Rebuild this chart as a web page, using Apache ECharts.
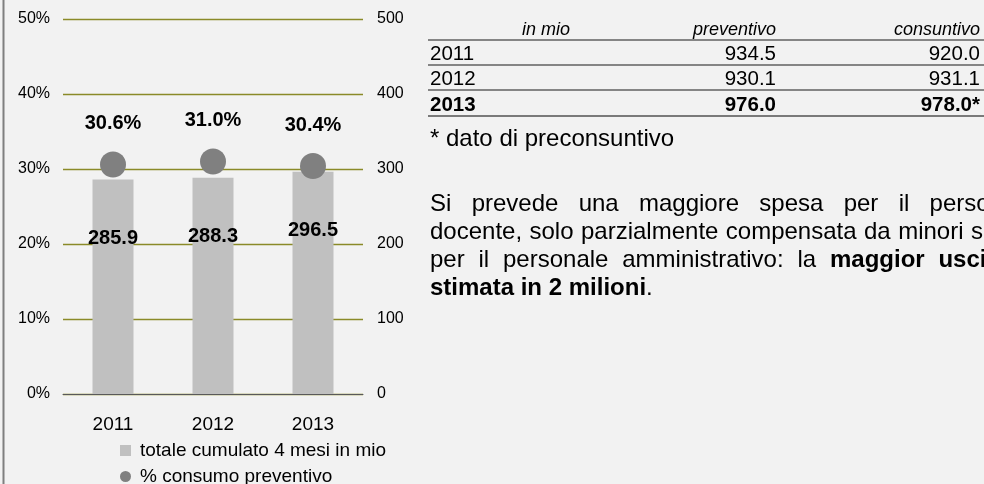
<!DOCTYPE html>
<html>
<head>
<meta charset="utf-8">
<title></title>
<script src="https://cdn.jsdelivr.net/npm/echarts@6/dist/echarts.min.js"></script>
<style>
  body { margin: 0; overflow: hidden; background: #f2f2f2; font-family: "Liberation Sans", Arial, sans-serif; color: #000; }
  #main { position: absolute; left: 0; top: 0; width: 984px; height: 484px; }
  .riga { position: absolute; left: 428px; width: 556px; border-bottom: 2px solid #858585; font-size: 20.5px; }
  .riga span { position: absolute; top: 0; white-space: nowrap; }
  .testa { top: 20px; height: 19px; line-height: 19px; font-size: 18px; font-style: italic; }
  .r0 { top: 41px; height: 23px; line-height: 24px; }
  .r1 { top: 66px; height: 23px; line-height: 24px; }
  .r2 { top: 91px; height: 24px; line-height: 25px; font-weight: bold; border-bottom-color: #7a7a7a; }
  .c1 { left: 2px; }
  .c1h { left: 0; width: 236px; text-align: center; }
  .c2 { right: 208px; text-align: right; }
  .c3 { right: 4px; text-align: right; }
  #nota { position: absolute; left: 430px; top: 124px; font-size: 24px; line-height: 28px; white-space: nowrap; }
  #testo { position: absolute; left: 430px; top: 189px; width: 605px; font-size: 24px; line-height: 28px; text-align: justify; }
</style>
</head>
<body>
<div id="main"></div>
<div id="tabella"></div>
<div id="nota">* dato di preconsuntivo</div>
<div id="testo">Si prevede una maggiore spesa per il personale docente, solo parzialmente compensata da minori spese per il personale amministrativo: la <b>maggior uscita è stimata in 2 milioni</b>.</div>
<script type="text/javascript">
  // dati del grafico
  var anni = ['2011', '2012', '2013'];
  var totale = [285.9, 288.3, 296.5];
  var consumo = [30.6, 31.0, 30.4];
  // dati della tabella
  var intestazione = ['in mio', 'preventivo', 'consuntivo'];
  var preventivo = [934.5, 930.1, 976.0];
  var consuntivo = [920.0, 931.1, 978.0];

  // tabella a destra
  var tab = document.getElementById('tabella');
  var html = '<div class="riga testa"><span class="c1h">' + intestazione[0] + '</span><span class="c2">' +
    intestazione[1] + '</span><span class="c3">' + intestazione[2] + '</span></div>';
  for (var i = 0; i < anni.length; i++) {
    var cons = consuntivo[i].toFixed(1) + (i == anni.length - 1 ? '*' : '');
    html += '<div class="riga r' + i + '"><span class="c1">' + anni[i] + '</span><span class="c2">' +
      preventivo[i].toFixed(1) + '</span><span class="c3">' + cons + '</span></div>';
  }
  tab.innerHTML = html;

  var nomeBar = 'totale cumulato 4 mesi in mio';
  var nomePunti = '% consumo preventivo';

  var myCharts = echarts.init(document.getElementById('main'));
  var legendaBase = {
    left: 115,
    itemWidth: 11,
    itemHeight: 11,
    textStyle: { fontSize: 19, color: '#000', padding: [0, 0, 0, 4] }
  };
  var option = {
    backgroundColor: '#f2f2f2',
    animation: false,
    textStyle: { fontFamily: 'Liberation Sans, Arial, sans-serif' },
    grid: { left: 63, right: 621, top: 19, bottom: 90 },
    legend: [
      Object.assign({}, legendaBase, { top: 436, data: [{ name: nomeBar, icon: 'rect' }] }),
      Object.assign({}, legendaBase, { top: 462, data: [{ name: nomePunti, icon: 'circle' }] })
    ],
    xAxis: {
      type: 'category',
      data: anni,
      axisLine: { lineStyle: { color: '#595959' } },
      axisTick: { length: 6, lineStyle: { color: '#595959' } },
      axisLabel: { fontSize: 19, color: '#000', margin: 21 }
    },
    yAxis: [
      {
        type: 'value', min: 0, max: 50, interval: 10,
        axisLabel: { formatter: '{value}%', fontSize: 16, color: '#000', margin: 13 },
        splitLine: { lineStyle: { color: '#8a8a28', width: 1.4 } },
        axisLine: { show: false },
        axisTick: { show: false }
      },
      {
        type: 'value', min: 0, max: 500, interval: 100, position: 'right',
        axisLabel: { fontSize: 16, color: '#000', margin: 14 },
        splitLine: { show: false },
        axisLine: { show: false },
        axisTick: { show: false }
      }
    ],
    series: [
      {
        name: nomeBar,
        type: 'bar',
        yAxisIndex: 1,
        data: totale,
        barWidth: 41,
        itemStyle: { color: '#c0c0c0' },
        label: {
          show: true, position: ['50%', 59], align: 'center', verticalAlign: 'middle',
          fontSize: 20, fontWeight: 'bold', color: '#000',
          formatter: function (p) { return p.value.toFixed(1); }
        }
      },
      {
        name: nomePunti,
        type: 'scatter',
        yAxisIndex: 0,
        data: consumo,
        symbolSize: 26,
        itemStyle: { color: '#808080', opacity: 1 },
        z: 3,
        label: {
          show: true, position: 'top', distance: 18,
          fontSize: 20, fontWeight: 'bold', color: '#000',
          formatter: function (p) { return p.value.toFixed(1) + '%'; }
        }
      }
    ],
    graphic: [
      { type: 'line', shape: { x1: 3.5, y1: 0, x2: 3.5, y2: 484 }, style: { stroke: '#7f7f7f', lineWidth: 2 } }
    ]
  };
  myCharts.setOption(option);
</script>
</body>
</html>
